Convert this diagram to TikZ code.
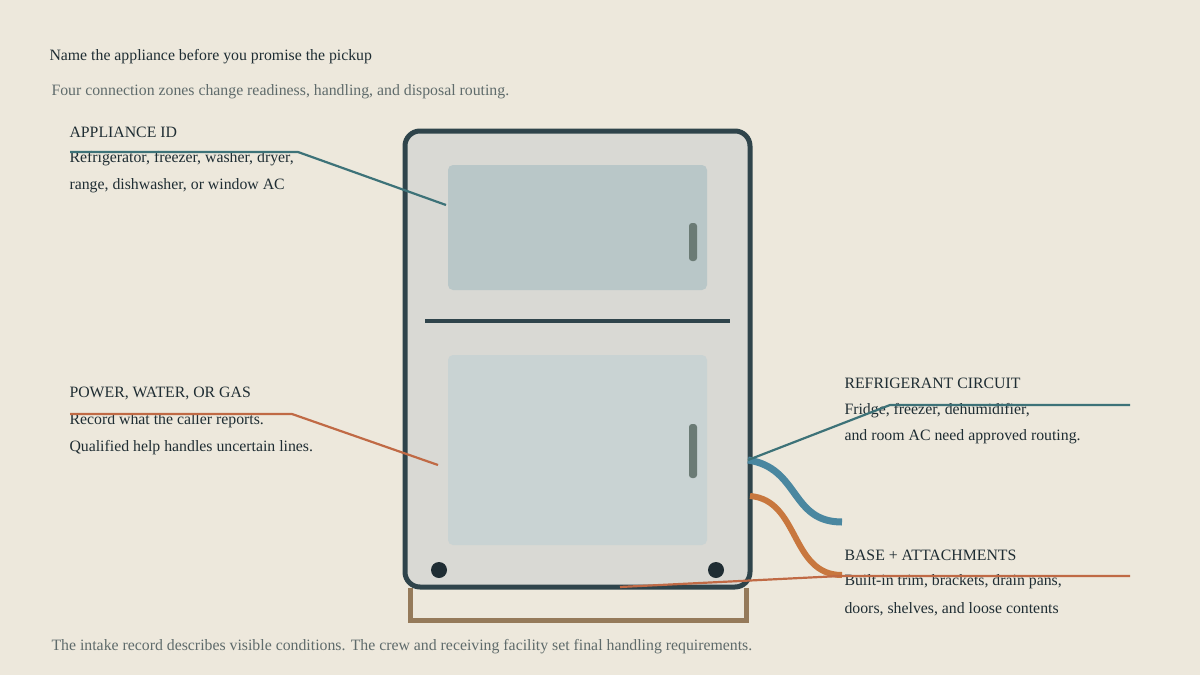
\documentclass[tikz,border=0pt]{standalone}
\usepackage{fontspec}
\setmainfont{Liberation Serif}
\definecolor{paper}{HTML}{EDE8DC}
\definecolor{ink}{HTML}{1F2D33}
\definecolor{muted}{HTML}{5F6B6B}
\definecolor{frame}{HTML}{2F444B}
\definecolor{body}{HTML}{D9D9D4}
\definecolor{doorA}{HTML}{B9C7C8}
\definecolor{doorB}{HTML}{C9D3D3}
\definecolor{grip}{HTML}{6B7B75}
\definecolor{stand}{HTML}{957A5A}
\definecolor{teal}{HTML}{3D7278}
\definecolor{rust}{HTML}{C06A45}
\definecolor{pipeblue}{HTML}{4A87A0}
\definecolor{pipeorange}{HTML}{C8773E}
\tikzset{
    head/.style={anchor=west, text=ink, font=\fontsize{15.8}{19}\selectfont},
    note/.style={anchor=west, text=ink, font=\fontsize{15.8}{19}\selectfont},
    faint/.style={anchor=west, text=muted, font=\fontsize{15.8}{19}\selectfont},
    leader/.style={line width=2.2pt},
}
\begin{document}
\begin{tikzpicture}[x=1pt, y=-1pt]
    \fill[paper] (0,0) rectangle (1200,675);
    \useasboundingbox (0,0) rectangle (1200,675);
    % titles
    \node[head] (title) at (46,57) {Name the appliance before you promise the pickup};
    \node[faint] (sub) at (48,92) {Four connection zones change readiness, handling, and disposal routing.};
    \node[faint] (foot) at (48,647) {The intake record describes visible conditions. The crew and receiving facility set final handling requirements.};
    % stand
    \draw[stand, line width=5pt] (410,588) -- (410,620) -- (746,620) -- (746,588);
    % fridge
    \draw[frame, fill=body, line width=5pt, rounded corners=15pt] (405,131) rectangle (750,587);
    \fill[doorA, rounded corners=5pt] (448,165) rectangle (707,290);
    \fill[grip, rounded corners=3pt] (689,223) rectangle (697,261);
    \draw[frame, line width=4pt] (425,321) -- (730,321);
    \fill[doorB, rounded corners=5pt] (448,355) rectangle (707,545);
    \fill[grip, rounded corners=3pt] (689,424) rectangle (697,478);
    \fill[ink] (439,570) circle (8);
    \fill[ink] (716,570) circle (8);
    % pipes
    \draw[pipeblue, line width=7pt] (748,460) .. controls (800,468) and (790,522) .. (842,522);
    \draw[pipeorange, line width=6pt] (750,496) .. controls (800,500) and (790,575) .. (842,575);
    % labels
    \node[head] (idh) at (66,132) {APPLIANCE ID};
    \node[note] (id1) at (66,159) {Refrigerator, freezer, washer, dryer,};
    \node[note] (id2) at (66,186) {range, dishwasher, or window AC};
    \node[head] (pwh) at (66,393) {POWER, WATER, OR GAS};
    \node[note] (pw1) at (66,421) {Record what the caller reports.};
    \node[note] (pw2) at (66,448) {Qualified help handles uncertain lines.};
    \node[head] (rch) at (841,383) {REFRIGERANT CIRCUIT};
    \node[note] (rc1) at (841,411) {Fridge, freezer, dehumidifier,};
    \node[note] (rc2) at (841,437) {and room AC need approved routing.};
    \node[head] (bah) at (841,555) {BASE + ATTACHMENTS};
    \node[note] (ba1) at (841,582) {Built-in trim, brackets, drain pans,};
    \node[note] (ba2) at (841,609) {doors, shelves, and loose contents};
    % leaders
    \draw[leader, teal] (70,152) -- (298,152) -- (446,205);
    \draw[leader, rust] (70,414) -- (292,414) -- (438,465);
    \draw[leader, teal] (748,460) -- (890,405) -- (1130,405);
    \draw[leader, rust] (620,587) -- (840,576) -- (1130,576);
\end{tikzpicture}
\end{document}
